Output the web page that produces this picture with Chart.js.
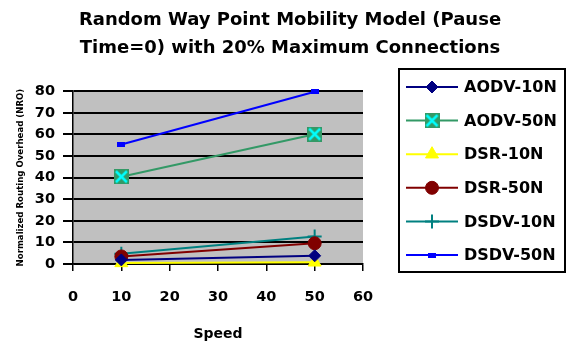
<!DOCTYPE html>
<html>
<head>
<meta charset="utf-8">
<script src="https://cdn.jsdelivr.net/npm/chart.js@4.4.0/dist/chart.umd.min.js"></script>
<style>
  html, body { margin: 0; padding: 0; background: #fff; }
  #wrap { width: 568px; height: 345px; }
</style>
</head>
<body>
<div id="wrap"><canvas id="chart-0" width="568" height="345"></canvas></div>
<script>
// data
var speeds = [10, 50];
var seriesNames = ["AODV-10N", "AODV-50N", "DSR-10N", "DSR-50N", "DSDV-10N", "DSDV-50N"];
var aodv10 = [1.9, 3.8];
var aodv50 = [40.4, 60.1];
var dsr10 = [0.5, 0.8];
var dsr50 = [3.5, 9.6];
var dsdv10 = [4.8, 12.7];
var dsdv50 = [55.3, 79.7];
var xTickStep = 10;
var xMax = 60;
var yTickStep = 10;
var yMax = 80;

var titleLines = ["Random Way Point Mobility Model (Pause", "Time=0) with 20% Maximum Connections"];

Chart.defaults.font.family = "DejaVu Sans";
Chart.defaults.color = "#000";

// square marker with cyan X
function makeXBox() {
    var c = document.createElement("canvas");
    c.width = 15; c.height = 15;
    var g = c.getContext("2d");
    g.fillStyle = "#339966";
    g.fillRect(0, 0, 15, 15);
    g.strokeStyle = "#00ffff";
    g.lineWidth = 2.5;
    g.beginPath();
    g.moveTo(2, 2); g.lineTo(13, 13);
    g.moveTo(13, 2); g.lineTo(2, 13);
    g.stroke();
    return c;
}

// small blue dash marker
function makeDash() {
    var c = document.createElement("canvas");
    c.width = 8; c.height = 5;
    var g = c.getContext("2d");
    g.fillStyle = "#0000ff";
    g.fillRect(0, 0, 8, 5);
    return c;
}

function toPoints(vals) {
    var pts = [];
    for (var i = 0; i < speeds.length; i++) {
        pts.push({ x: speeds[i], y: vals[i] });
    }
    return pts;
}

var styles = [
    { color: "#000080", fill: "#000080", style: "rectRot", r: 6, bw: 1 },
    { color: "#339966", fill: "#339966", style: makeXBox(), r: 7, bw: 1 },
    { color: "#ffff00", fill: "#ffff00", style: "triangle", r: 7.5, bw: 1 },
    { color: "#800000", fill: "#800000", style: "circle", r: 6.5, bw: 1 },
    { color: "#008080", fill: "#008080", style: "cross", r: 7, bw: 2 },
    { color: "#0000ff", fill: "#0000ff", style: makeDash(), r: 4, bw: 1 }
];
var seriesValues = [aodv10, aodv50, dsr10, dsr50, dsdv10, dsdv50];

var datasets = [];
for (var k = 0; k < seriesNames.length; k++) {
    datasets.push({
        label: seriesNames[k],
        data: toPoints(seriesValues[k]),
        borderColor: styles[k].color,
        backgroundColor: styles[k].fill,
        borderWidth: 2,
        pointStyle: styles[k].style,
        pointRadius: styles[k].r,
        pointBorderWidth: styles[k].bw,
        pointBorderColor: styles[k].color,
        pointBackgroundColor: styles[k].fill,
        showLine: true,
        tension: 0,
        clip: false
    });
}

var plotBackground = {
    id: "plotBackground",
    beforeDraw: function(chart) {
        var a = chart.chartArea;
        var ctx = chart.ctx;
        ctx.save();
        ctx.fillStyle = "#c0c0c0";
        ctx.fillRect(a.left, a.top, a.right - a.left, a.bottom - a.top);
        ctx.restore();
    }
};

// legend box with line + marker samples
var boxLegend = {
    id: "boxLegend",
    afterDraw: function(chart) {
        var ctx = chart.ctx;
        ctx.save();
        ctx.strokeStyle = "#000";
        ctx.lineWidth = 2;
        ctx.strokeRect(399, 69, 166, 203);
        ctx.font = "bold 16px 'DejaVu Sans'";
        ctx.textBaseline = "middle";
        ctx.textAlign = "left";
        for (var i = 0; i < chart.data.datasets.length; i++) {
            var ds = chart.data.datasets[i];
            var y = 87 + i * 33.6;
            ctx.strokeStyle = ds.borderColor;
            ctx.lineWidth = 2;
            ctx.beginPath();
            ctx.moveTo(406, y);
            ctx.lineTo(458, y);
            ctx.stroke();
            ctx.fillStyle = ds.pointBackgroundColor;
            ctx.strokeStyle = ds.pointBorderColor;
            ctx.lineWidth = ds.pointBorderWidth;
            Chart.helpers.drawPoint(ctx, {
                pointStyle: ds.pointStyle,
                radius: ds.pointRadius,
                rotation: 0,
                borderWidth: ds.pointBorderWidth
            }, 432, y);
            ctx.fillStyle = "#000";
            ctx.fillText(ds.label, 464, y + 1);
        }
        ctx.restore();
    }
};

var ctx0 = document.getElementById("chart-0");
var myChart = new Chart(ctx0, {
    type: "scatter",
    data: { datasets: datasets },
    options: {
        responsive: false,
        animation: false,
        layout: { padding: { left: 12, right: 0, top: 0, bottom: 0 } },
        plugins: {
            legend: { display: false },
            tooltip: { enabled: false },
            title: {
                display: true,
                text: titleLines,
                color: "#000",
                font: { size: 18, weight: "bold", lineHeight: 1.56 },
                padding: { top: 6, bottom: 29 }
            }
        },
        scales: {
            x: {
                type: "linear",
                min: 0,
                max: xMax,
                ticks: { stepSize: xTickStep, autoSkip: false, color: "#000", padding: 18, font: { size: 14.5, weight: "bold" } },
                grid: { drawOnChartArea: false, color: "#000", lineWidth: 1.5, tickLength: 7 },
                border: { color: "#000", width: 1.5 },
                title: { display: true, text: "Speed", color: "#000", font: { size: 14, weight: "bold" }, padding: { top: 6, bottom: 2 } },
                afterFit: function(s) { s.height = 81; }
            },
            y: {
                min: 0,
                max: yMax,
                ticks: { stepSize: yTickStep, autoSkip: false, color: "#000", padding: 8, font: { size: 14.5, weight: "bold" } },
                grid: { color: "#000", lineWidth: 2, tickLength: 10 },
                border: { color: "#000", width: 1.5 },
                title: { display: true, text: "Normalized Routing Overhead (NRO)", color: "#000", font: { size: 8.6, weight: "bold" }, padding: { top: 4, bottom: 0 } },
                afterFit: function(s) { s.width = 61; }
            },
            yRight: {
                position: "right",
                min: 0,
                max: yMax,
                grid: { display: false },
                ticks: { display: false },
                border: { display: false },
                afterFit: function(s) { s.width = 205; }
            }
        }
    },
    plugins: [plotBackground, boxLegend]
});
</script>
</body>
</html>
